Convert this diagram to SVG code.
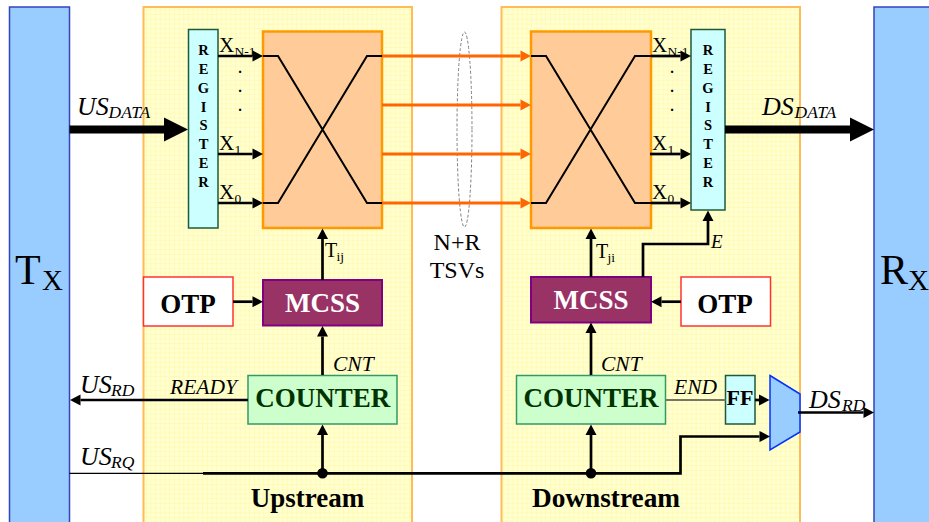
<svg xmlns="http://www.w3.org/2000/svg" width="929" height="522" viewBox="0 0 929 522">
<style>
text{font-family:"Liberation Serif","Times New Roman",serif;fill:#000}
.reg{font-size:14.5px;font-weight:bold;text-anchor:middle}
.box{font-size:27px;font-weight:bold;text-anchor:middle}
.sig{font-size:26px;font-style:italic}
.sub{font-size:17.5px;font-style:italic}
.x{font-size:21px}
.xs{font-size:13.5px}
.lab{font-size:21.5px;font-style:italic}
.big{font-size:42px}
.bigs{font-size:29px}
.end{fill:#99ccff;stroke:#3344bb;stroke-width:1.5}
.panel{fill:url(#grid);stroke:#ffbb55;stroke-width:2}
.register{fill:#ccffff;stroke:#1f5a3a;stroke-width:1.5}
.xbar{fill:#ffcc99;stroke:#ff9900;stroke-width:2.5}
.mcss{fill:#993366;stroke:#800080;stroke-width:2}
.counter{fill:#ccffcc;stroke:#339966;stroke-width:1.5}
.otp{fill:#fff;stroke:#ff3333;stroke-width:1.5}
.ff{fill:#ccffff;stroke:#1f5a3a;stroke-width:1.5}
.w{fill:none;stroke:#000;stroke-width:2}
.c{fill:none;stroke:#000;stroke-width:2.7}
.a{marker-end:url(#head)}
.bus{fill:none;stroke:#000;stroke-width:8;marker-end:url(#bighead)}
.tsv{fill:none;stroke:#ff6600;stroke-width:3;marker-end:url(#orangehead)}
</style>
<defs>
<pattern id="grid" width="4.7" height="4.7" patternUnits="userSpaceOnUse">
<rect width="4.7" height="4.7" fill="#ffffd2"/>
<path d="M0 .5H4.7M.5 0V4.7" stroke="#fffbb4" stroke-width="1" fill="none"/>
</pattern>
<marker id="head" markerUnits="userSpaceOnUse" markerWidth="11" markerHeight="12" refX="0" refY="6" orient="auto" overflow="visible"><path d="M0 .5L10.5 6L0 11.5Z" fill="#000"/></marker>
<marker id="orangehead" markerUnits="userSpaceOnUse" markerWidth="11" markerHeight="12" refX="0" refY="6" orient="auto" overflow="visible"><path d="M0 .5L10.5 6L0 11.5Z" fill="#ff6600"/></marker>
<marker id="bighead" markerUnits="userSpaceOnUse" markerWidth="24" markerHeight="24" refX="0" refY="12" orient="auto" overflow="visible"><path d="M0 0L24 12L0 24Z" fill="#000"/></marker>
</defs>
<rect width="929" height="522" fill="#fff"/>

<g id="tx"><rect class="end" x="9.5" y="7" width="60" height="525"/><text class="big" x="15" y="284">T</text><text class="bigs" x="42" y="290">X</text></g>
<g id="rx"><rect class="end" x="874" y="7" width="65" height="525"/><text class="big" x="880" y="284">R</text><text class="bigs" x="908" y="290">X</text></g>

<g id="upstream"><rect class="panel" x="143.5" y="7" width="268.5" height="525"/><text class="box" x="307.500" y="507">Upstream</text></g>
<g id="downstream"><rect class="panel" x="501.500" y="7" width="298.500" height="525"/><text class="box" x="606" y="507" style="font-size:27.3px">Downstream</text></g>

<g id="register-up"><rect class="register" x="188.500" y="29.500" width="29.500" height="198.500"/>
<text class="reg" x="203.500" y="55">R</text><text class="reg" x="203.500" y="74">E</text><text class="reg" x="203.500" y="93">G</text><text class="reg" x="203.500" y="112">I</text><text class="reg" x="203.500" y="130">S</text><text class="reg" x="203.500" y="149">T</text><text class="reg" x="203.500" y="168">E</text><text class="reg" x="203.500" y="187">R</text></g>
<g id="register-down"><rect class="register" x="691" y="29.500" width="34" height="180.500"/>
<text class="reg" x="708" y="55">R</text><text class="reg" x="708" y="74">E</text><text class="reg" x="708" y="93">G</text><text class="reg" x="708" y="112">I</text><text class="reg" x="708" y="130">S</text><text class="reg" x="708" y="149">T</text><text class="reg" x="708" y="168">E</text><text class="reg" x="708" y="187">R</text></g>

<g id="crossbar-up"><rect class="xbar" x="263" y="31.500" width="119" height="196.500"/><path class="w" d="M263 56H278L367 203H382M263 203H278L367 56H382"/></g>
<g id="crossbar-down"><rect class="xbar" x="531" y="31.500" width="120" height="196.500"/><path class="w" d="M531 56H546L635 203H651M531 203H546L635 56H651"/></g>

<g id="mcss-up"><rect class="mcss" x="263" y="280" width="119" height="45.500"/><text class="box" x="322.500" y="312" style="fill:#fff">MCSS</text></g>
<g id="mcss-down"><rect class="mcss" x="531" y="277" width="120" height="45.500"/><text class="box" x="591" y="309" style="fill:#fff">MCSS</text></g>
<g id="otp-up"><rect class="otp" x="143.500" y="277" width="89.500" height="49"/><text class="box" x="188" y="313">OTP</text></g>
<g id="otp-down"><rect class="otp" x="681" y="277" width="89.500" height="49"/><text class="box" x="725" y="313">OTP</text></g>
<g id="counter-up"><rect class="counter" x="248" y="375.500" width="149" height="48.500"/><text class="box" x="322.800" y="407" style="fill:#003300">COUNTER</text></g>
<g id="counter-down"><rect class="counter" x="516.500" y="375.500" width="149" height="48.500"/><text class="box" x="591" y="407" style="fill:#003300">COUNTER</text></g>
<g id="ff"><rect class="ff" x="725.500" y="375.500" width="29.500" height="48.500"/><text class="box" x="740" y="405" style="font-size:22px">FF</text></g>
<g id="mux"><path d="M770 375.500L800 394V432L770 450Z" fill="#99ccff" stroke="#0033ff" stroke-width="1.500"/></g>
<g id="tsv-ring"><ellipse cx="464.500" cy="129.500" rx="7.500" ry="97.500" fill="none" stroke="#808080" stroke-width="1" stroke-dasharray="3 2"/></g>

<g id="connectors">
<path class="bus" d="M69.500 129.500H164"/>
<path class="bus" d="M725 129.500H850"/>
<path class="c a" d="M218 56H252.500"/>
<path class="c a" d="M218 154H252.500"/>
<path class="c a" d="M218 203H252.500"/>
<path class="c a" d="M651 56H680.500"/>
<path class="c a" d="M650 154H680.500"/>
<path class="c a" d="M651 203H680.500"/>
<path class="tsv" d="M382 56H520.500"/>
<path class="tsv" d="M382 105H520.500"/>
<path class="tsv" d="M382 154H520.500"/>
<path class="tsv" d="M382 203H520.500"/>
<path class="c a" d="M322.500 280V239"/>
<path class="c a" d="M591 277V239"/>
<path class="c a" d="M643 277V244H708V221"/>
<path class="c a" d="M233 301.700H252.500"/>
<path class="c a" d="M681 301.700H661.500"/>
<path class="c a" d="M322.500 375V336.500"/>
<path class="c a" d="M591 375V333"/>
<path class="c a" d="M248 400H80.500"/>
<path d="M69.500 473.300H203" fill="none" stroke="#000" stroke-width="1.300"/>
<path class="c a" d="M203 473.300H680.500V436.500H759.500"/>
<circle cx="322.500" cy="473.300" r="5.300" fill="#000"/>
<circle cx="591" cy="473.300" r="5.300" fill="#000"/>
<path class="c a" d="M322.500 473V435"/>
<path class="c a" d="M591 473V435"/>
<path d="M665.500 400H725.500" fill="none" stroke="#77775f" stroke-width="2"/>
<path class="c a" d="M755 400H759"/>
<path class="c a" d="M798 412.500H863.500"/>
</g>

<g id="labels">
<text class="sig" x="77" y="115">US</text><text class="sub" x="108.500" y="118">DATA</text>
<text class="sig" x="762" y="115">DS</text><text class="sub" x="794.500" y="118">DATA</text>
<text class="sig" x="80" y="393">US</text><text class="sub" x="111" y="396">RD</text>
<text class="sig" x="80" y="465">US</text><text class="sub" x="111" y="468">RQ</text>
<text class="sig" x="809" y="408">DS</text><text class="sub" x="842" y="411">RD</text>
<text class="lab" x="170" y="394">READY</text>
<text class="lab" x="674" y="394">END</text>
<text class="lab" x="333" y="371">CNT</text>
<text class="lab" x="601" y="371">CNT</text>
<text class="lab" x="711" y="248" style="font-size:19px">E</text>
<text class="x" x="219" y="52">X</text><text class="xs" x="234.500" y="56">N-1</text>
<text class="x" x="219" y="150">X</text><text class="xs" x="234.500" y="154">1</text>
<text class="x" x="219" y="199">X</text><text class="xs" x="234.500" y="203">0</text>
<text class="x" x="652" y="52">X</text><text class="xs" x="667.500" y="56">N-1</text>
<text class="x" x="652" y="150">X</text><text class="xs" x="667.500" y="154">1</text>
<text class="x" x="652" y="199">X</text><text class="xs" x="667.500" y="203">0</text>
<text class="reg" x="240" y="73">.</text><text class="reg" x="240" y="92">.</text><text class="reg" x="240" y="111">.</text>
<text class="reg" x="672" y="73">.</text><text class="reg" x="672" y="92">.</text><text class="reg" x="672" y="111">.</text>
<text x="325" y="257" style="font-size:20px">T</text><text class="xs" x="336.500" y="261">ij</text>
<text x="596" y="258" style="font-size:20px">T</text><text class="xs" x="607.500" y="262">ji</text>
<text x="457" y="250" text-anchor="middle" style="font-size:24px">N+R</text>
<text x="457" y="278" text-anchor="middle" style="font-size:24px">TSVs</text>
</g>
</svg>
